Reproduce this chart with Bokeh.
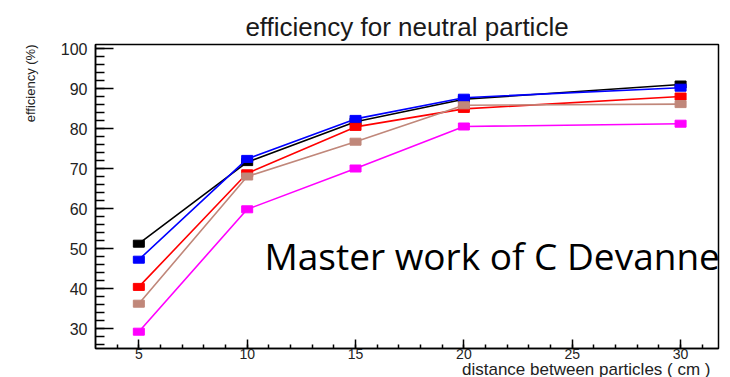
from bokeh.plotting import figure
from bokeh.models import Label, FixedTicker, Range1d, Title
from bokeh.embed import file_html
from bokeh.resources import INLINE

distance = [5, 10, 15, 20, 30]
eff_black = [51.2, 71.6, 81.7, 87.3, 91.0]
eff_blue = [47.2, 72.4, 82.4, 87.7, 90.2]
eff_red = [40.4, 68.8, 80.4, 84.9, 88.0]
eff_brown = [36.2, 68.0, 76.7, 85.8, 86.1]
eff_magenta = [29.2, 59.8, 70.0, 80.5, 81.2]

series = [
    (eff_black, "#000000"),
    (eff_blue, "#0000ff"),
    (eff_red, "#ff0000"),
    (eff_brown, "#c0877a"),
    (eff_magenta, "#ff00ff"),
]

x_ticks = [5, 10, 15, 20, 25, 30]
y_ticks = [30, 40, 50, 60, 70, 80, 90, 100]

p = figure(width=730, height=377, output_backend="svg", toolbar_location=None,
           x_range=Range1d(3.0, 31.75), y_range=Range1d(25.0, 101.0),
           min_border_left=95, min_border_right=12, min_border_top=44, min_border_bottom=29)

p.title.text = "efficiency for neutral particle"
p.title.text_font = "Liberation Sans"
p.title.text_font_size = "26px"
p.title.text_font_style = "normal"
p.title.text_color = "#1a1a1a"
p.title.align = "center"
p.title.offset = 70
p.title.standoff = 6

p.grid.visible = False
p.outline_line_color = "#000000"
p.outline_line_width = 1.5
p.background_fill_color = "#ffffff"
p.border_fill_color = "#ffffff"

for ax in (p.xaxis, p.yaxis):
    ax.axis_line_color = "#000000"
    ax.axis_line_width = 1.5
    ax.major_tick_line_color = "#000000"
    ax.minor_tick_line_color = "#000000"
    ax.major_tick_line_width = 1.5
    ax.minor_tick_line_width = 1.5
    ax.major_tick_out = 0
    ax.minor_tick_out = 0
    ax.major_label_text_font = "Liberation Sans"
    ax.major_label_text_color = "#222222"

p.xaxis.ticker = FixedTicker(ticks=x_ticks, minor_ticks=list(range(4, 32)))
p.yaxis.ticker = FixedTicker(ticks=y_ticks, minor_ticks=list(range(26, 101, 2)))
p.xaxis.major_tick_in = 9
p.xaxis.minor_tick_in = 4
p.yaxis.major_tick_in = 18
p.yaxis.minor_tick_in = 9
p.xaxis.major_label_text_font_size = "14px"
p.yaxis.major_label_text_font_size = "16px"
p.xaxis.major_label_standoff = 0
p.yaxis.major_label_standoff = 8

p.add_layout(Title(text="distance between particles ( cm )", text_font="Liberation Sans",
                   text_font_size="17px", text_font_style="normal", text_color="#222222",
                   align="right", standoff=-8, offset=8), "below")
p.add_layout(Title(text="efficiency (%)", text_font="Liberation Sans",
                   text_font_size="13px", text_font_style="normal", text_color="#222222",
                   align="right", standoff=39), "left")

for vals, col in series:
    p.line(distance, vals, line_color=col, line_width=1.6)
    p.rect(distance, vals, width=11, height=7, width_units="screen", height_units="screen",
           fill_color=col, line_color=col)

p.add_layout(Label(x=10.8, y=48.2, text="Master work of C Devanne",
                   text_font="Open Sans", text_font_size="37px",
                   text_color="#000000", text_baseline="alphabetic"))

open("out.html", "w").write(file_html(p, INLINE))
